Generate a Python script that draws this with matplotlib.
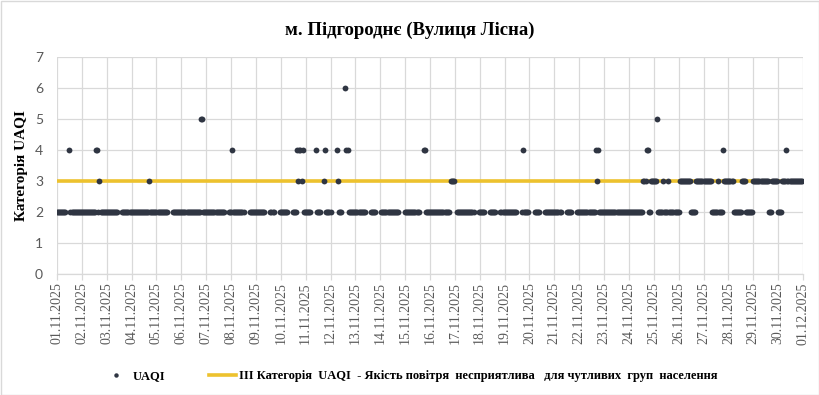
import numpy as np
import pandas as pd
import matplotlib
matplotlib.use("Agg")
import matplotlib.pyplot as plt
import matplotlib.dates as mdates
from matplotlib.lines import Line2D
from matplotlib.patches import Rectangle

# ---------------- data (hourly UAQI category, one string per day, '-' = no data)
title = "м. Підгороднє (Вулиця Лісна)"
y_label = "Категорія UAQI"
series_name = "UAQI"
threshold_name = "III Категорія  UAQI  - Якість повітря  несприятлива   для чутливих  груп  населення"
threshold_value = 3
start_date = "2025-11-01"
end_date = "2025-12-01"

daily_hours = [
    "222222222---422222222222",  # 01.11
    "222222222222224423222222",  # 02.11
    "22222222222----222222222",  # 03.11
    "222222222222222223222222",  # 04.11
    "22222222222-----22222222",  # 05.11
    "222222222222222222255222",  # 06.11
    "222222222222222222----22",  # 07.11
    "2422222222222-----222222",  # 08.11
    "222222222-----2222-----2",  # 09.11
    "2222222-----222243443422",  # 10.11
    "22222-----42222---342222",  # 11.11
    "2-----43222---64-4222222",  # 12.11
    "2222222222-----22222----",  # 13.11
    "-22222222222222222------",  # 14.11
    "22222222222222----442222",  # 15.11
    "2222222222222222222-3333",  # 16.11
    "--22222222222222222----2",  # 17.11
    "22222-----222222----2222",  # 18.11
    "222222222222-----2422222",  # 19.11
    "-----22222-----222222222",  # 20.11
    "2222222-----22222-----22",  # 21.11
    "222222222222222243422222",  # 22.11
    "222222222222222222222222",  # 23.11
    "222222222222223334422333",  # 24.11
    "333522222322223222222222",  # 25.11
    "233333333333222223333333",  # 26.11
    "333333332222223222243333",  # 27.11
    "333332222222233332222222",  # 28.11
    "333333333333333222333333",  # 29.11
    "222233334333333333333333",  # 30.11
]

values = np.array([np.nan if c == "-" else float(c) for day in daily_hours for c in day])
times = pd.date_range(start_date, periods=len(values), freq="h")

# ---------------- figure
W, H = 820, 395
fig = plt.figure(figsize=(W / 100, H / 100), dpi=100)
fig.patch.set_facecolor("white")
fig.add_artist(Rectangle((0.5 / W, 0.5 / H), 1 - 1.5 / W, 1 - 1.5 / H, transform=fig.transFigure,
                         fill=False, edgecolor="#d9d9d9", linewidth=1.0))

ax = fig.add_axes([57 / W, 1 - 274 / H, (803 - 57) / W, (274 - 57) / H])

serif = "Liberation Serif"
dot_color = "#2f3542"
gold = "#EDC22E"
grid_color = "#d9d9d9"
text_color = "#595959"

t0 = pd.Timestamp(start_date)
t1 = pd.Timestamp(end_date)
ax.plot([t0, t1], [threshold_value, threshold_value], color=gold, linewidth=2.6,
        solid_capstyle="butt", zorder=2)
ax.plot(times, values, linestyle="none", marker="o", markersize=4.2,
        color=dot_color, markeredgewidth=0, zorder=3)

ax.set_xlim(t0, t1)
ax.set_ylim(0, 7)
ax.set_yticks(range(0, 8))
ax.xaxis.set_major_locator(mdates.DayLocator())
ax.xaxis.set_major_formatter(mdates.DateFormatter("%d.%m.%Y"))

ax.grid(True, color=grid_color, linewidth=0.9, zorder=0)
ax.set_axisbelow(True)
for s in ["top", "right", "left"]:
    ax.spines[s].set_visible(False)
ax.spines["bottom"].set_color(grid_color)
ax.spines["bottom"].set_linewidth(0.9)

ax.tick_params(axis="x", which="major", length=4, color=grid_color, width=0.9,
               labelrotation=90, labelsize=10, labelcolor=text_color, pad=2)
ax.tick_params(axis="y", length=0, labelsize=10, labelcolor=text_color, pad=10)
for lab in ax.get_xticklabels():
    lab.set_fontfamily(serif)
for lab in ax.get_yticklabels():
    lab.set_fontfamily("Lato")

ax.set_ylabel(y_label, fontfamily=serif, fontweight="bold", fontsize=11,
              color="black", labelpad=5)

fig.text(0.5, 1 - 30 / H, title, ha="center", va="center", fontfamily=serif,
         fontweight="bold", fontsize=13.5, color="black")

handles = [
    Line2D([], [], linestyle="none", marker="o", markersize=3.2, color=dot_color,
           markeredgewidth=0),
    Line2D([], [], color=gold, linewidth=2.6),
]
leg = fig.legend(handles, [series_name, threshold_name], loc="center",
                 bbox_to_anchor=(0.5, 1 - 376 / H), ncol=2, frameon=False,
                 prop={"family": serif, "weight": "bold", "size": 9},
                 handlelength=2.2, handletextpad=0.2, columnspacing=3.5)

fig.savefig("out.png", dpi=100, facecolor="white")
